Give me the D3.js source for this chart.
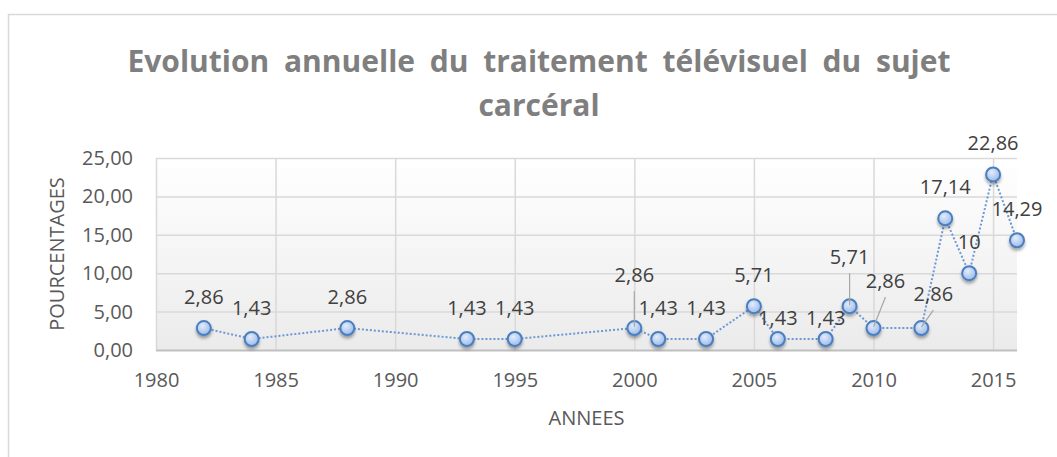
<!DOCTYPE html>
<html>
<head>
<meta charset="utf-8">
<script src="https://cdn.jsdelivr.net/npm/d3@7"></script>
<style>
  body { margin: 0; background: #fff; }
  text { font-family: 'Open Sans', sans-serif; }
</style>
</head>
<body>
<div id="chart"></div>
<script>

// data
var years = [1982, 1984, 1988, 1993, 1995, 2000, 2001, 2003, 2005, 2006, 2008, 2009, 2010, 2012, 2013, 2014, 2015, 2016];
var values = [2.86, 1.43, 2.86, 1.43, 1.43, 2.86, 1.43, 1.43, 5.71, 1.43, 1.43, 5.71, 2.86, 2.86, 17.14, 10, 22.86, 14.29];
var xTicks = [1980, 1985, 1990, 1995, 2000, 2005, 2010, 2015];
var yTicks = [0, 5, 10, 15, 20, 25];
var titleLines = ['Evolution annuelle du traitement télévisuel du sujet', 'carcéral'];

// label placement (dx, dy from the point, leader line or not)
var labelDx = [0, 0, 0, 0, 0, 0, 0, 0, 0, 0, 0, 0, 12, 12, 0, 0, 0, 0];
var labelDy = [-31, -31, -31, -31, -31, -53, -31, -31, -31, -21, -21, -49, -47, -34, -31, -31, -31, -31];
var leader = [0, 0, 0, 0, 0, 1, 0, 0, 0, 0, 0, 1, 1, 1, 0, 0, 0, 0];

var data = years.map(function(y, i) {
  return {year: y, value: values[i], dx: labelDx[i], dy: labelDy[i], leader: leader[i]};
});

var W = 1057, H = 457;
var margin = {top: 158, right: 40, bottom: 107, left: 156};
var width = W - margin.left - margin.right;
var height = H - margin.top - margin.bottom;

var svg = d3.select('#chart').append('svg')
    .attr('width', W)
    .attr('height', H);

var defs = svg.append('defs');

var bg = defs.append('linearGradient')
    .attr('id', 'plotbg')
    .attr('x1', 0).attr('y1', 0).attr('x2', 0).attr('y2', 1);
bg.append('stop').attr('offset', '0%').attr('stop-color', '#ffffff');
bg.append('stop').attr('offset', '100%').attr('stop-color', '#ebebeb');

var mk = defs.append('radialGradient')
    .attr('id', 'marker')
    .attr('cx', '40%').attr('cy', '35%').attr('r', '65%');
mk.append('stop').attr('offset', '0%').attr('stop-color', '#e3ecfa');
mk.append('stop').attr('offset', '100%').attr('stop-color', '#9dbbea');

var sh = defs.append('filter')
    .attr('id', 'shadow')
    .attr('x', '-50%').attr('y', '-50%').attr('width', '200%').attr('height', '200%');
sh.append('feDropShadow')
    .attr('dx', 0).attr('dy', 2.5)
    .attr('stdDeviation', 1.6)
    .attr('flood-color', '#000')
    .attr('flood-opacity', 0.35);

// chart area border
svg.append('rect')
    .attr('x', 8.5).attr('y', 14.5)
    .attr('width', 1062).attr('height', 460)
    .attr('fill', '#fff')
    .attr('stroke', '#d9d9d9')
    .attr('stroke-width', 1.5);

// title
var title = svg.append('g');
titleLines.forEach(function(t, i) {
  title.append('text')
      .attr('x', 539)
      .attr('y', 72 + i * 44)
      .attr('text-anchor', 'middle')
      .attr('font-size', '30px')
      .attr('font-weight', 'bold')
      .attr('fill', '#7f7f7f')
      .text(t);
});
// stretch the first line's word gaps to the reference width
var first = title.select('text').node();
var natural = first.getComputedTextLength();
d3.select(first).attr('word-spacing', (823 - natural) / 6);

var g = svg.append('g')
    .attr('transform', 'translate(' + margin.left + ',' + margin.top + ')');

// scales
var x = d3.scaleLinear().domain([1980, 2016]).range([0, width]);
var y = d3.scaleLinear().domain([0, 25]).range([height, 0]);

g.append('rect')
    .attr('width', width)
    .attr('height', height)
    .attr('fill', 'url(#plotbg)');

// gridlines
g.append('g')
    .attr('class', 'xgrid')
    .attr('transform', 'translate(0,' + height + ')')
    .call(d3.axisBottom(x).tickValues(xTicks).tickSize(-height).tickFormat(''))
    .call(function(s) {
      s.select('.domain').remove();
      s.selectAll('line').attr('stroke', '#d9d9d9').attr('stroke-width', 1.5);
    });

g.append('g')
    .attr('class', 'ygrid')
    .call(d3.axisLeft(y).tickValues(yTicks).tickSize(-width).tickFormat(''))
    .call(function(s) {
      s.select('.domain').remove();
      s.selectAll('line').attr('stroke', '#d9d9d9').attr('stroke-width', 1.5);
      s.selectAll('.tick').filter(function(d) { return d === 0; }).select('line')
          .attr('stroke', '#bfbfbf').attr('stroke-width', 2);
    });

// axes labels
var fmtY = function(d) { return d3.format('.2f')(d).replace('.', ','); };

g.append('g')
    .attr('transform', 'translate(0,' + height + ')')
    .call(d3.axisBottom(x).tickValues(xTicks).tickSize(0).tickPadding(23).tickFormat(d3.format('d')))
    .call(function(s) {
      s.select('.domain').remove();
      s.selectAll('text')
          .attr('font-family', "'Open Sans', sans-serif")
          .attr('font-size', '20px')
          .attr('fill', '#595959');
    });

g.append('g')
    .call(d3.axisLeft(y).tickValues(yTicks).tickSize(0).tickPadding(23).tickFormat(fmtY))
    .call(function(s) {
      s.select('.domain').remove();
      s.selectAll('text')
          .attr('font-family', "'Open Sans', sans-serif")
          .attr('font-size', '20px')
          .attr('fill', '#595959');
    });

// axis titles
svg.append('text')
    .attr('x', margin.left + width / 2)
    .attr('y', 425)
    .attr('text-anchor', 'middle')
    .attr('font-size', '20px')
    .attr('fill', '#595959')
    .text('ANNEES');

svg.append('text')
    .attr('transform', 'translate(64,' + (margin.top + height / 2) + ') rotate(-90)')
    .attr('text-anchor', 'middle')
    .attr('font-size', '20px')
    .attr('fill', '#595959')
    .text('POURCENTAGES');

// dotted line
var line = d3.line()
    .x(function(d) { return x(d.year); })
    .y(function(d) { return y(d.value); });

g.append('path')
    .datum(data)
    .attr('d', line)
    .attr('fill', 'none')
    .attr('stroke', '#6b98d6')
    .attr('stroke-width', 2)
    .attr('stroke-dasharray', '2,2');

// markers
g.selectAll('circle.pt')
    .data(data)
  .enter().append('circle')
    .attr('class', 'pt')
    .attr('cx', function(d) { return x(d.year); })
    .attr('cy', function(d) { return y(d.value); })
    .attr('r', 7)
    .attr('fill', 'url(#marker)')
    .attr('stroke', '#4a7ebf')
    .attr('stroke-width', 2)
    .attr('filter', 'url(#shadow)');

// leader lines
g.selectAll('line.leader')
    .data(data.filter(function(d) { return d.leader; }))
  .enter().append('line')
    .attr('class', 'leader')
    .attr('x1', function(d) { return x(d.year) + d.dx; })
    .attr('y1', function(d) { return y(d.value) + d.dy + 16; })
    .attr('x2', function(d) { return x(d.year); })
    .attr('y2', function(d) { return y(d.value) - 1; })
    .attr('stroke', '#a6a6a6')
    .attr('stroke-width', 1.2);

// value labels
g.selectAll('text.value')
    .data(data)
  .enter().append('text')
    .attr('class', 'value')
    .attr('x', function(d) { return x(d.year) + d.dx; })
    .attr('y', function(d) { return y(d.value) + d.dy + 7; })
    .attr('text-anchor', 'middle')
    .attr('font-size', '20px')
    .attr('fill', '#404040')
    .text(function(d) { return String(d.value).replace('.', ','); });

</script>
</body>
</html>
